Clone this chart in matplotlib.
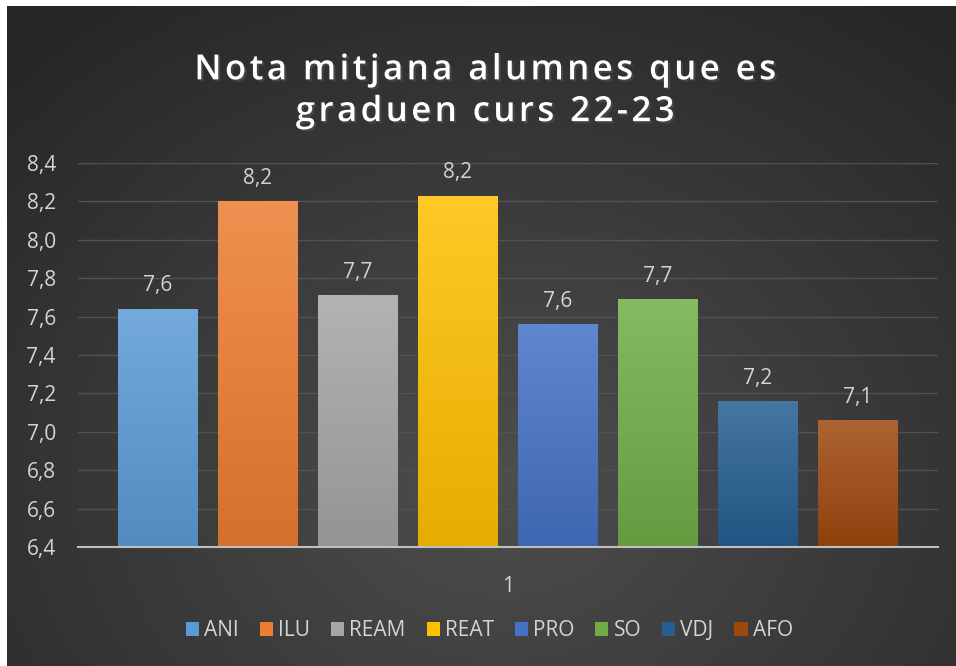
import numpy as np
import matplotlib.pyplot as plt
import matplotlib.patheffects as pe
from matplotlib.colors import LinearSegmentedColormap, to_rgb
from matplotlib.patches import Patch

plt.rcParams['font.family'] = ['Open Sans', 'DejaVu Sans']

# Dades
titol = 'Nota mitjana alumnes que es\ngraduen curs 22-23'
cicles = ['ANI', 'ILU', 'REAM', 'REAT', 'PRO', 'SO', 'VDJ', 'AFO']
notes = [7.64, 8.20, 7.71, 8.23, 7.56, 7.69, 7.16, 7.06]
colors = ['#5B9BD5', '#ED7D31', '#A5A5A5', '#FFC000',
          '#4472C4', '#70AD47', '#255E91', '#9E480E']
yticks = [6.4, 6.6, 6.8, 7.0, 7.2, 7.4, 7.6, 7.8, 8.0, 8.2, 8.4]

W, H = 956, 666
fig = plt.figure(figsize=(W / 100, H / 100), dpi=100)
fig.patch.set_facecolor('white')

# fons fosc amb degradat radial
bg = fig.add_axes([7 / W, 0, 1 - 7 / W, 1 - 6 / H])
yy, xx = np.mgrid[0:1:300j, 0:1:400j]
r = np.sqrt(((xx - 0.52) / 0.75) ** 2 + ((yy - 0.72) / 0.9) ** 2)
r = np.clip(r, 0, 1)
fons = LinearSegmentedColormap.from_list('fons', ['#4e4e4e', '#3a3a3a', '#262626'])
bg.imshow(r, cmap=fons, aspect='auto', extent=[0, 1, 0, 1], origin='upper')
bg.axis('off')

ax = fig.add_axes([78 / W, (H - 547) / H, 860 / W, 384 / H])
ax.set_facecolor('none')
x = np.arange(len(cicles))
barres = ax.bar(x, notes, width=0.8, bottom=0, color=colors, zorder=2)

ax.set_yticks(yticks)
ax.set_yticklabels([f'{v:.1f}'.replace('.', ',') for v in yticks])
ax.set_xticks([3.5])
ax.set_xticklabels(['1'])
ax.tick_params(axis='both', length=0, colors='#d4d4d4', labelsize=15)
ax.tick_params(axis='x', pad=21)
ax.tick_params(axis='y', pad=16)
ax.grid(axis='y', color='#525252', linewidth=1, zorder=0)
for s in ['top', 'right', 'left']:
    ax.spines[s].set_visible(False)
ax.spines['bottom'].set_color('#bfbfbf')
ax.spines['bottom'].set_linewidth(1.5)
ax.spines['bottom'].set_zorder(4)

# degradat vertical a cada barra
for b, c in zip(barres, colors):
    base = np.array(to_rgb(c))
    clar = base + (1 - base) * 0.15
    fosc = base * 0.9
    cmap = LinearSegmentedColormap.from_list('g', [fosc, clar])
    grad = np.linspace(0, 1, 100).reshape(-1, 1)
    x0, w = b.get_x(), b.get_width()
    im = ax.imshow(grad, cmap=cmap, aspect='auto', origin='lower',
                   extent=[x0, x0 + w, 6.4, b.get_height()], zorder=3)
    im.set_clip_path(b)
    ax.text(x0 + w / 2, b.get_height() + 0.065, f'{b.get_height():.1f}'.replace('.', ','),
            ha='center', va='bottom', color='#d4d4d4', fontsize=15, zorder=5)
ax.set_xlim(-0.8, 7.8)
ax.set_ylim(6.4, 8.4)

# títol amb espaiat entre lletres
titol_esp = '\n'.join('\u200a'.join(linia) for linia in titol.split('\n'))
fig.text(0.508, 0.863, titol_esp, ha='center', va='center', color='white',
         fontsize=25, fontweight='semibold', linespacing=1.3,
         path_effects=[pe.SimplePatchShadow(offset=(1.5, -1.5), alpha=0.7), pe.Normal()])

handles = [Patch(facecolor=c, edgecolor='none') for c in colors]
fig.legend(handles, cicles, loc='center', bbox_to_anchor=(0.512, 1 - 631 / H), ncol=8,
           frameon=False, fontsize=15, labelcolor='#d4d4d4',
           handlelength=0.63, handleheight=0.63, handletextpad=0.25, columnspacing=1.0)

fig.savefig('out.png', dpi=100)
